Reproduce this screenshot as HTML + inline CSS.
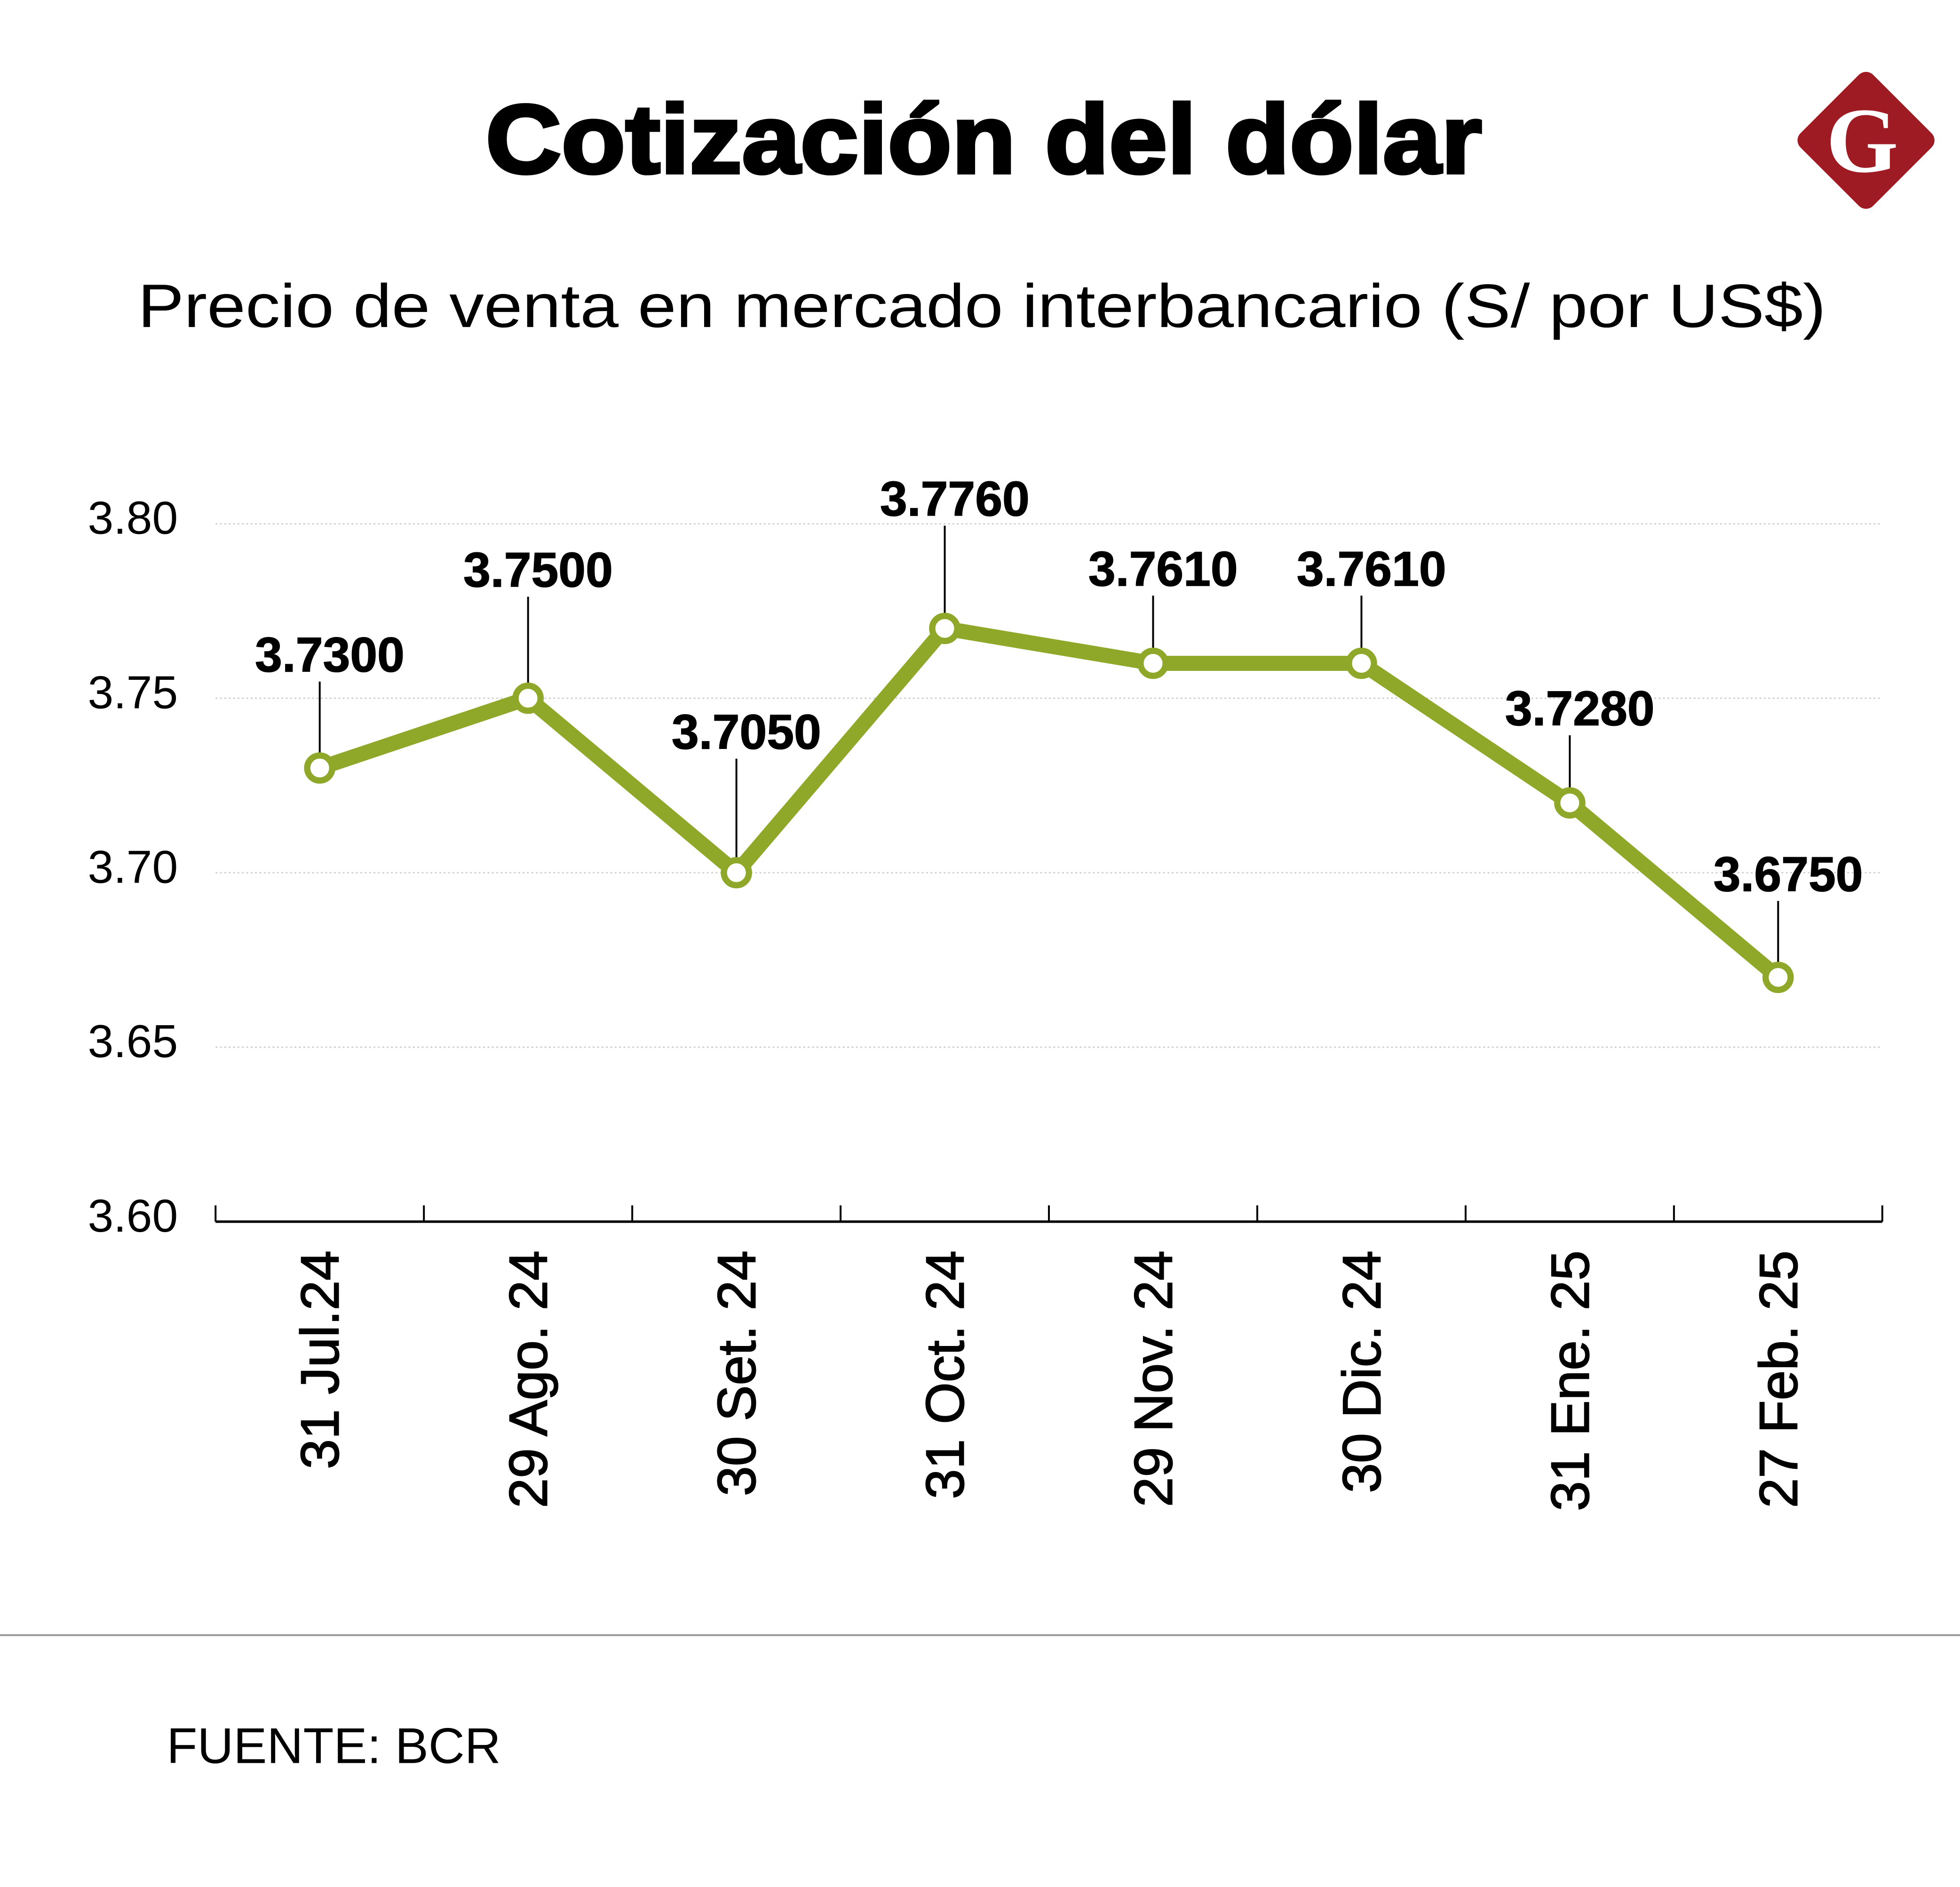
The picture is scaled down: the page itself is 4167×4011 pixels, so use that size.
<!DOCTYPE html>
<html><head><meta charset="utf-8"><style>
html,body{margin:0;padding:0;background:#fff;}
svg{display:block;}
text{font-family:"Liberation Sans",sans-serif;}
</style></head><body>
<svg id="chart" width="4167" height="4011" viewBox="0 0 1564 1506" preserveAspectRatio="none" xmlns="http://www.w3.org/2000/svg">
<rect width="1564" height="1506" fill="#fff"/>
<text x="785" y="138" text-anchor="middle" font-size="78" font-weight="bold" fill="#000" textLength="795" lengthAdjust="spacingAndGlyphs" stroke="#000" stroke-width="2.5">Cotización del dólar</text>
<g>
<rect x="1448" y="71" width="82" height="82" rx="8" fill="#9e1b24" transform="rotate(45 1489 112)"/>
<text x="1486" y="137" text-anchor="middle" style="font-family:'Liberation Serif',serif" font-size="74" font-weight="bold" fill="#fff">G</text>
</g>
<text x="110" y="261" font-size="49" fill="#000" textLength="1347" lengthAdjust="spacingAndGlyphs">Precio de venta en mercado interbancario (S/ por US$)</text>
<g id="grid"></g>
<g id="yaxis"></g>
<g id="xaxis"></g>
<g id="series"></g>
<line x1="0" y1="1305" x2="1564" y2="1305" stroke="#999" stroke-width="1.5"/>
<text x="133" y="1407" font-size="40" fill="#000">FUENTE: BCR</text>
</svg>
<script>
const categories = ["31 Jul.24","29 Ago. 24","30 Set. 24","31 Oct. 24","29 Nov. 24","30 Dic. 24","31 Ene. 25","27 Feb. 25"];
const plotted = [3.73,3.75,3.70,3.77,3.76,3.76,3.72,3.67];
const labels = ["3.7300","3.7500","3.7050","3.7760","3.7610","3.7610","3.7280","3.6750"];
const labelOffsets = [77,89,99,90,62,62,62,69];
const yTicks = [3.60,3.65,3.70,3.75,3.80];
const yTickLabels = ["3.60","3.65","3.70","3.75","3.80"];

const NS="http://www.w3.org/2000/svg";
const x0=172,x1=1502,yMin=3.60,yMax=3.80,py0=975,py1=418;
const band=(x1-x0)/categories.length;
function xs(i){return x0+band*(i+0.5);}
function ys(v){return py0-(v-yMin)/(yMax-yMin)*(py0-py1);}
function mk(tag,attrs,parent){const e=document.createElementNS(NS,tag);for(const k in attrs)e.setAttribute(k,attrs[k]);parent.appendChild(e);return e;}
const grid=document.getElementById('grid'),yax=document.getElementById('yaxis'),xax=document.getElementById('xaxis'),ser=document.getElementById('series');
yTicks.forEach((t,i)=>{
  const y=ys(t);
  if(i>0){const g=mk('line',{x1:x0,x2:x1,y1:y,y2:y,stroke:'#ccc','stroke-width':1,'stroke-dasharray':'1.5 2'},grid);
  
  }
  const tx=mk('text',{x:142,y:y+8,'text-anchor':'end','font-size':37,fill:'#000'},yax);
  tx.textContent=yTickLabels[i];
  
  
});
const ax=mk('line',{x1:x0,x2:x1,y1:py0,y2:py0,stroke:'#000','stroke-width':2},xax);


for(let i=0;i<=categories.length;i++){
  const x=x0+band*i;
  const t=mk('text',{},xax); xax.removeChild(t);
  const tk=mk('line',{x1:x,x2:x,y1:py0-13,y2:py0,stroke:'#000','stroke-width':1.5},xax);
  
  
}
categories.forEach((c,i)=>{
  const x=xs(i)+15;
  const t=mk('text',{x:x,y:998,'text-anchor':'end','font-size':43,fill:'#000',stroke:'#000','stroke-width':0.8,transform:'rotate(-90 '+x+' 998)'},xax);
  t.textContent=c;
  
  
});
const pts=plotted.map((v,i)=>xs(i)+','+ys(v)).join(' ');
const line=mk('polyline',{points:pts,fill:'none',stroke:'#8fa82a','stroke-width':12,'stroke-linejoin':'round'},ser);


plotted.forEach((v,i)=>{
  const x=xs(i),y=ys(v),by=y-labelOffsets[i];
  const l=mk('line',{x1:x,x2:x,y1:by+8,y2:y-9,stroke:'#000','stroke-width':1.5},ser);
  
  
  const c=mk('circle',{cx:x,cy:y,r:10,fill:'#fff',stroke:'#8fa82a','stroke-width':5},ser);
  
  
  const t=mk('text',{x:x+8,y:by,'text-anchor':'middle','font-size':39,'font-weight':'bold',fill:'#000',stroke:'#000','stroke-width':0.6},ser);
  t.textContent=labels[i];
  
  
});
</script>
</body></html>
